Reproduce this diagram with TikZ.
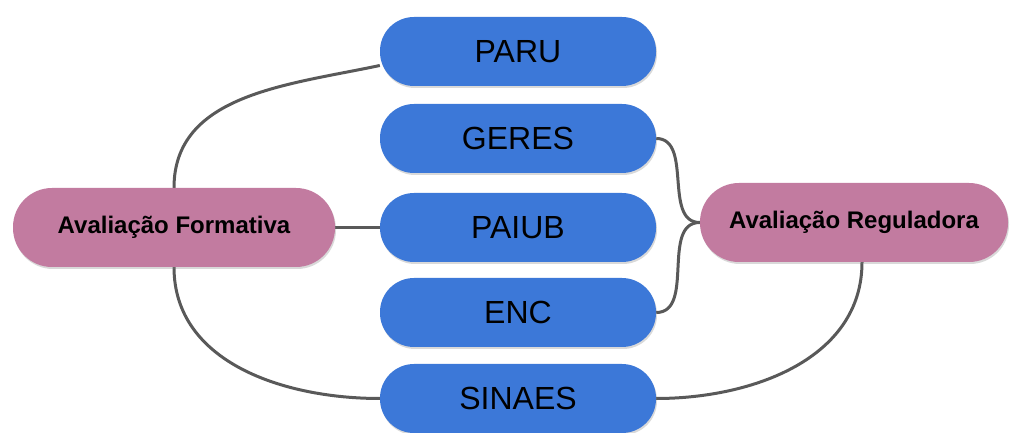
\documentclass[tikz,border=0pt]{standalone}
\usepackage{fontspec}
\setmainfont{Liberation Sans}
\usetikzlibrary{shadows,backgrounds}
\definecolor{progblue}{HTML}{3C78D8}
\definecolor{evalpink}{HTML}{C27BA0}
\definecolor{linkgray}{HTML}{595959}
\begin{document}
\begin{tikzpicture}[x=1pt,y=1pt,
    prog/.style={fill=progblue,rounded corners=34pt,minimum width=276pt,
      minimum height=69pt,font=\fontsize{32}{36}\selectfont,
      drop shadow={opacity=.3,shadow xshift=1pt,shadow yshift=-2pt}},
    eval/.style={fill=evalpink,rounded corners=39pt,minimum height=79pt,
      font=\bfseries\fontsize{24}{28}\selectfont,
      drop shadow={opacity=.3,shadow xshift=1pt,shadow yshift=-2pt}},
    link/.style={draw=linkgray,line width=3pt}]
      \useasboundingbox (0,0) rectangle (1014,433);
      % programas, de cima para baixo
      \node[prog] (paru)   at (518,381.5) {PARU};
      \node[prog] (geres)  at (518,294.5) {GERES};
      \node[prog] (paiub)  at (518,205.5) {PAIUB};
      \node[prog] (enc)    at (518,120.5) {ENC};
      \node[prog] (sinaes) at (518,34.5)  {SINAES};
      % tipos de avaliacao
      \node[eval,minimum width=322pt] (form) at (174,205.5) {Avaliação Formativa};
      \node[eval,minimum width=308pt] (regu) at (854,210.5) {Avaliação Reguladora};
      \begin{pgfonlayer}{background}
      \draw[link] (form.north) to[out=90,in=192] ([yshift=-14pt]paru.west);
      \draw[link] (form.east) -- (paiub.west);
      \draw[link] (form.south) to[out=-90,in=180] (sinaes.west);
      \draw[link] (geres.east) to[out=0,in=180] (regu.west);
      \draw[link] (enc.east) to[out=0,in=180] (regu.west);
      \draw[link] ([xshift=8pt]regu.south) to[out=-90,in=0] (sinaes.east);
      \end{pgfonlayer}
    \end{tikzpicture}
\end{document}
